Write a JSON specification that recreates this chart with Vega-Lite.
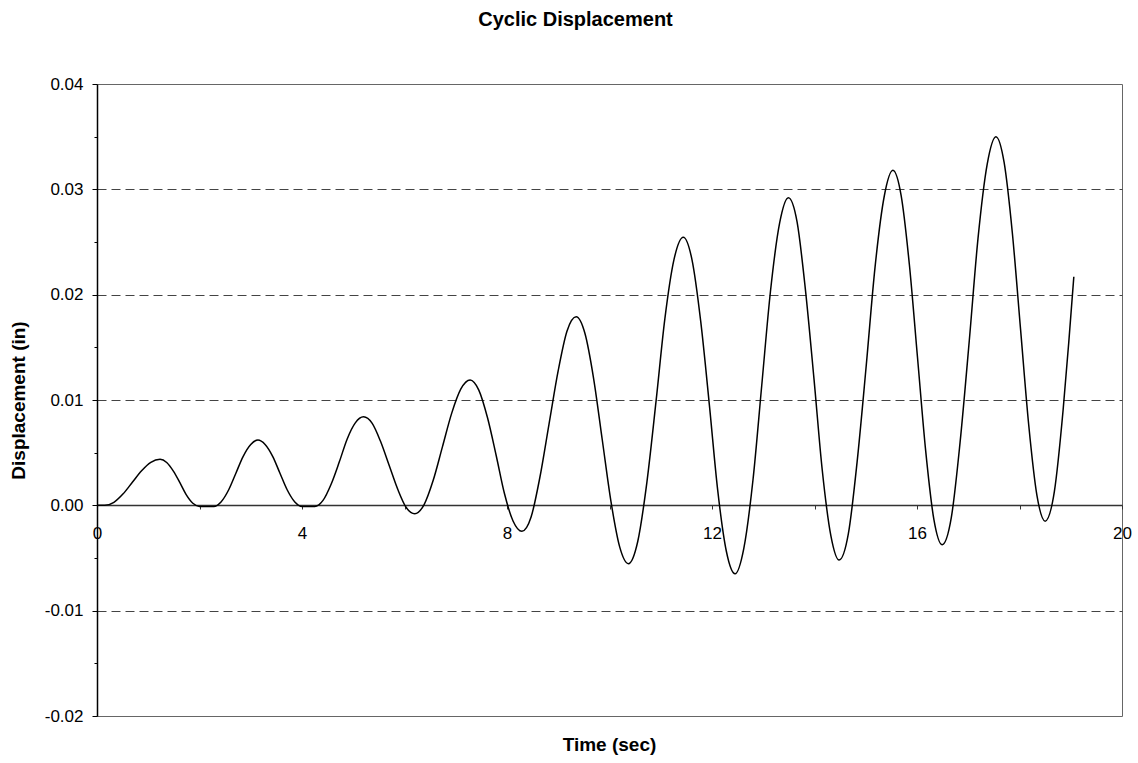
{
  "$schema": "https://vega.github.io/schema/vega-lite/v6.json",
  "width": 1025,
  "height": 632,
  "autosize": {"type": "none"},
  "padding": {"left": 97, "top": 84, "right": 16, "bottom": 47},
  "background": "white",
  "title": {
    "text": "Cyclic Displacement",
    "font": "Liberation Sans",
    "fontSize": 20,
    "fontWeight": "bold",
    "color": "black",
    "anchor": "middle",
    "baseline": "alphabetic",
    "dx": -34,
    "offset": 29
  },
  "config": {
    "view": {"stroke": "#666666", "strokeWidth": 1},
    "axis": {
      "labelFont": "Liberation Sans",
      "labelFontSize": 17,
      "labelColor": "black",
      "titleFont": "Liberation Sans",
      "titleFontSize": 19,
      "titleFontWeight": "bold",
      "titleColor": "black"
    }
  },
  "data": {
    "values": [
      {"t": 0, "d": 0},
      {"t": 0.15, "d": 0},
      {"t": 0.33, "d": 0.00029},
      {"t": 0.51, "d": 0.00109},
      {"t": 0.69, "d": 0.00219},
      {"t": 0.87, "d": 0.00328},
      {"t": 1.05, "d": 0.00408},
      {"t": 1.23, "d": 0.00437},
      {"t": 1.36, "d": 0.00407},
      {"t": 1.49, "d": 0.00325},
      {"t": 1.62, "d": 0.00213},
      {"t": 1.74, "d": 0.00102},
      {"t": 1.87, "d": 0.0002},
      {"t": 2.0, "d": -0.0001},
      {"t": 2.28, "d": -0.0001},
      {"t": 2.42, "d": 0.00032},
      {"t": 2.57, "d": 0.00148},
      {"t": 2.71, "d": 0.00305},
      {"t": 2.85, "d": 0.00463},
      {"t": 3.0, "d": 0.00578},
      {"t": 3.14, "d": 0.0062},
      {"t": 3.28, "d": 0.00578},
      {"t": 3.43, "d": 0.00463},
      {"t": 3.57, "d": 0.00305},
      {"t": 3.71, "d": 0.00148},
      {"t": 3.86, "d": 0.00032},
      {"t": 4.0, "d": -0.0001},
      {"t": 4.25, "d": -0.0001},
      {"t": 4.41, "d": 0.00047},
      {"t": 4.57, "d": 0.00203},
      {"t": 4.73, "d": 0.00415},
      {"t": 4.88, "d": 0.00628},
      {"t": 5.04, "d": 0.00783},
      {"t": 5.2, "d": 0.0084},
      {"t": 5.37, "d": 0.00778},
      {"t": 5.53, "d": 0.0061},
      {"t": 5.7, "d": 0.0038},
      {"t": 5.87, "d": 0.0015},
      {"t": 6.03, "d": -0.00018},
      {"t": 6.2, "d": -0.0008},
      {"t": 6.38, "d": 0.00005},
      {"t": 6.56, "d": 0.00238},
      {"t": 6.74, "d": 0.00555},
      {"t": 6.92, "d": 0.00873},
      {"t": 7.1, "d": 0.01105},
      {"t": 7.28, "d": 0.0119},
      {"t": 7.45, "d": 0.01094},
      {"t": 7.62, "d": 0.00831},
      {"t": 7.79, "d": 0.00471},
      {"t": 7.95, "d": 0.00112},
      {"t": 8.12, "d": -0.00151},
      {"t": 8.29, "d": -0.00247},
      {"t": 8.47, "d": -0.00111},
      {"t": 8.64, "d": 0.00262},
      {"t": 8.82, "d": 0.00772},
      {"t": 9.0, "d": 0.01281},
      {"t": 9.17, "d": 0.01653},
      {"t": 9.35, "d": 0.0179},
      {"t": 9.52, "d": 0.01633},
      {"t": 9.69, "d": 0.01204},
      {"t": 9.86, "d": 0.00618},
      {"t": 10.03, "d": 0.00032},
      {"t": 10.2, "d": -0.00397},
      {"t": 10.37, "d": -0.00554},
      {"t": 10.55, "d": -0.00346},
      {"t": 10.73, "d": 0.00221},
      {"t": 10.91, "d": 0.00996},
      {"t": 11.08, "d": 0.0177},
      {"t": 11.26, "d": 0.02337},
      {"t": 11.44, "d": 0.02545},
      {"t": 11.61, "d": 0.02331},
      {"t": 11.78, "d": 0.01746},
      {"t": 11.95, "d": 0.00947},
      {"t": 12.11, "d": 0.00149},
      {"t": 12.28, "d": -0.00436},
      {"t": 12.45, "d": -0.0065},
      {"t": 12.62, "d": -0.00411},
      {"t": 12.8, "d": 0.00243},
      {"t": 12.97, "d": 0.01135},
      {"t": 13.14, "d": 0.02028},
      {"t": 13.32, "d": 0.02681},
      {"t": 13.49, "d": 0.0292},
      {"t": 13.66, "d": 0.0269},
      {"t": 13.82, "d": 0.0206},
      {"t": 13.99, "d": 0.012},
      {"t": 14.15, "d": 0.0034},
      {"t": 14.32, "d": -0.0029},
      {"t": 14.48, "d": -0.0052},
      {"t": 14.66, "d": -0.00272},
      {"t": 14.83, "d": 0.00405},
      {"t": 15.01, "d": 0.0133},
      {"t": 15.18, "d": 0.02255},
      {"t": 15.36, "d": 0.02932},
      {"t": 15.53, "d": 0.0318},
      {"t": 15.69, "d": 0.02942},
      {"t": 15.85, "d": 0.02291},
      {"t": 16.01, "d": 0.01403},
      {"t": 16.17, "d": 0.00514},
      {"t": 16.33, "d": -0.00136},
      {"t": 16.49, "d": -0.00374},
      {"t": 16.67, "d": -0.00114},
      {"t": 16.84, "d": 0.00595},
      {"t": 17.02, "d": 0.01563},
      {"t": 17.19, "d": 0.02532},
      {"t": 17.37, "d": 0.0324},
      {"t": 17.54, "d": 0.035},
      {"t": 17.7, "d": 0.03255},
      {"t": 17.86, "d": 0.02588},
      {"t": 18.02, "d": 0.01675},
      {"t": 18.18, "d": 0.00763},
      {"t": 18.34, "d": 0.00095},
      {"t": 18.5, "d": -0.0015},
      {"t": 18.68, "d": 0.0013},
      {"t": 18.85, "d": 0.009},
      {"t": 18.96, "d": 0.0154},
      {"t": 19.06, "d": 0.0217}
    ]
  },
  "mark": {"type": "line", "color": "black", "strokeWidth": 1.5, "interpolate": "monotone", "clip": true},
  "encoding": {
    "x": {
      "field": "t",
      "type": "quantitative",
      "scale": {"domain": [0, 20], "nice": false, "zero": false},
      "axis": {
        "title": "Time (sec)",
        "values": [0, 2, 4, 6, 8, 10, 12, 14, 16, 18, 20],
        "labelExpr": "datum.value % 4 === 0 ? format(datum.value, 'd') : ''",
        "offset": -211,
        "grid": false,
        "domainColor": "#333333",
        "domainWidth": 1.5,
        "tickColor": "#333333",
        "tickSize": 4,
        "tickWidth": 1,
        "labelPadding": 16,
        "labelBaseline": "top",
        "labelOverlap": false,
        "labelBound": false,
        "labelFlush": false,
        "titleX": 512,
        "titleY": 245,
        "titleBaseline": "alphabetic",
        "titleAlign": "center",
        "titleAnchor": null
      }
    },
    "y": {
      "field": "d",
      "type": "quantitative",
      "scale": {"domain": [-0.02, 0.04], "nice": false, "zero": false},
      "axis": {
        "title": "Displacement (in)",
        "values": [-0.02, -0.015, -0.01, -0.005, 0, 0.005, 0.01, 0.015, 0.02, 0.025, 0.03, 0.035, 0.04],
        "labelExpr": "abs(datum.value*100 - round(datum.value*100)) < 0.01 ? replace(format(datum.value, '.2f'), '\u2212', '-') : ''",
        "grid": true,
        "gridColor": "#444444",
        "gridDash": [9, 5],
        "gridWidth": 1,
        "gridOpacity": {"condition": {"test": "abs(datum.value*100 - round(datum.value*100)) < 0.01 && datum.value > -0.015 && datum.value < 0.035 && abs(datum.value) > 0.001", "value": 1}, "value": 0},
        "tickSize": {"condition": {"test": "abs(datum.value*100 - round(datum.value*100)) < 0.01", "value": 5}, "value": 3},
        "tickColor": "black",
        "domainColor": "black",
        "domainWidth": 1.5,
        "labelPadding": 9,
        "labelOverlap": false,
        "labelBound": false,
        "labelFlush": false,
        "titleAngle": -90,
        "titleX": -79,
        "titleY": 316,
        "titleAlign": "center",
        "titleBaseline": "middle",
        "titleAnchor": null
      }
    }
  }
}
